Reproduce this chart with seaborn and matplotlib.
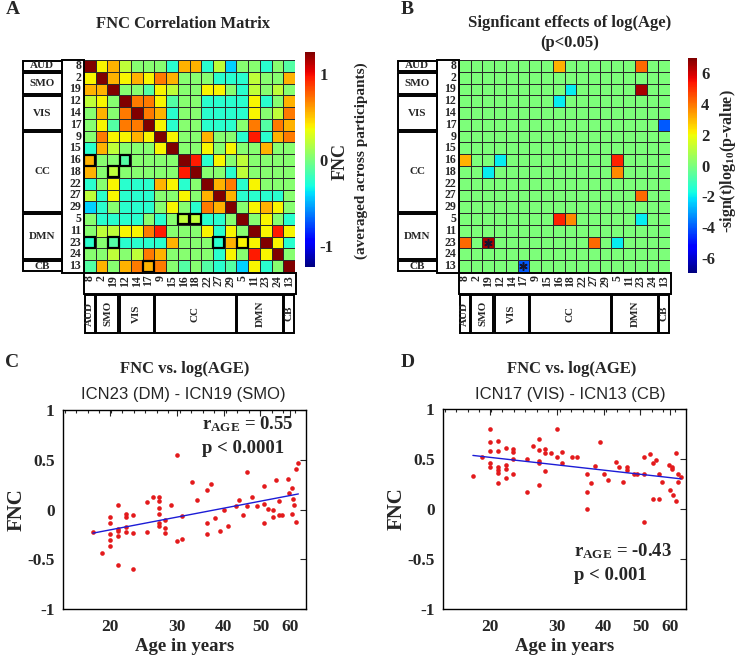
import numpy as np
import pandas as pd
import matplotlib
matplotlib.use('Agg')
import matplotlib.pyplot as plt
import seaborn as sns
from matplotlib.patches import Rectangle
from matplotlib.ticker import FixedLocator, NullFormatter

# ICN order and network groups
icn = ['8', '2', '19', '12', '14', '17', '9', '15', '16', '18', '22', '27', '29', '5', '11', '23', '24', '13']
groups = ['AUD', 'SMO', 'VIS', 'CC', 'DMN', 'CB']
group_sizes = [1, 2, 3, 7, 4, 1]

DR, R, O, LO, Y, YG, G, GC, C, LB = 1.25, 0.95, 0.7, 0.55, 0.38, 0.2, 0.03, -0.12, -0.25, -0.42

fnc_rows = [
    [DR, Y, LO, YG, G, G, G, C, LO, LO, C, YG, LB, G, G, C, G, GC],
    [Y, DR, LO, Y, LO, Y, O, LO, G, G, G, C, C, C, YG, G, G, LO],
    [LO, LO, DR, G, G, GC, Y, YG, G, G, Y, Y, G, C, YG, G, YG, G],
    [YG, Y, G, DR, O, O, Y, GC, G, G, C, C, C, C, Y, C, G, LO],
    [G, LO, G, O, DR, O, LO, C, G, G, C, C, C, C, Y, G, YG, O],
    [G, Y, GC, O, O, DR, Y, C, G, G, C, C, C, G, O, GC, O, LO],
    [G, O, Y, Y, LO, Y, DR, Y, G, G, LO, G, G, C, R, C, LO, O],
    [C, LO, YG, G, G, G, Y, DR, G, G, Y, G, Y, G, G, LO, G, G],
    [LO, G, G, GC, G, G, G, G, DR, R, C, Y, G, YG, G, G, G, G],
    [LO, G, YG, G, G, G, G, G, R, DR, G, G, C, YG, G, G, G, G],
    [C, G, Y, C, C, C, LO, Y, C, G, DR, LO, O, C, Y, G, G, G],
    [YG, C, Y, C, C, C, G, G, Y, G, LO, DR, LO, C, C, C, C, G],
    [LB, C, G, C, C, C, G, Y, G, C, O, LO, DR, G, Y, LO, Y, G],
    [G, C, C, C, C, G, C, G, YG, YG, C, C, G, DR, G, Y, G, C],
    [G, YG, YG, Y, Y, O, R, G, G, G, Y, C, Y, G, DR, Y, R, Y],
    [C, G, GC, C, C, C, C, LO, G, G, G, C, LO, Y, Y, DR, Y, C],
    [G, G, YG, G, YG, O, LO, G, G, G, G, C, Y, G, R, Y, DR, G],
    [GC, LO, G, LO, O, LO, O, G, GC, G, GC, C, GC, LB, Y, C, G, DR],
]

# significant log(Age) effects: lower-triangle cell (row, col) and -sign(t)log10(p)
sig_rows = [8, 8, 9, 13, 13, 15, 15, 15, 15, 17]
sig_cols = [0, 3, 2, 8, 9, 0, 2, 11, 13, 5]
sig_vals = [3.1, -2.0, -2.0, 5.2, 3.7, 4.2, 6.5, 4.2, -2.0, -4.0]
star_cells = [(15, 2), (17, 5)]

# panel C: ICN23 (DM) - ICN19 (SMO)
ageC = [18, 19, 20, 20, 20, 20, 20, 21, 21, 21, 21, 21, 22, 22, 22, 22, 23, 23, 23,
        25, 25, 26, 27, 27, 27, 27, 27, 27, 28, 28, 28, 29, 30, 30, 31, 31, 33, 34,
        36, 36, 36, 37, 38, 39, 40, 41, 43, 44, 45, 46, 46, 47.5, 49, 51, 51, 51,
        52.5, 54, 54, 55, 56, 56, 57, 59, 59.5, 60.5, 60.5, 61, 61.5, 62, 62, 63]
fncC = [-0.23, -0.44, -0.08, -0.14, -0.25, -0.31, -0.37, 0.05, -0.2, -0.22, -0.27, -0.56,
        -0.05, -0.08, -0.18, -0.23, -0.06, -0.24, -0.6, 0.08, -0.23, 0.13, 0.13, 0.09,
        0.02, -0.05, -0.14, -0.17, -0.11, -0.19, -0.24, 0.05, 0.55, -0.32, -0.07, -0.3,
        0.28, 0.1, 0.2, -0.14, -0.25, 0.26, -0.09, -0.22, 0.0, -0.17, 0.04, 0.1, -0.06,
        0.38, 0.04, 0.13, 0.04, 0.24, 0.06, -0.14, 0.01, -0.01, -0.08, 0.3, 0.09, -0.06,
        -0.06, 0.31, 0.17, 0.22, -0.05, 0.11, 0.05, -0.13, 0.41, 0.47]

# panel D: ICN17 (VIS) - ICN13 (CB)
ageD = [18, 19, 20, 20, 20, 20, 20, 21, 21, 21, 21, 21, 21, 22, 22, 22, 22, 23, 23, 23, 23,
        25, 25, 26, 27, 27, 27, 27, 27, 28, 28, 28, 29, 30, 30, 31, 31, 33, 34,
        36, 36, 36, 37, 38, 39, 40, 41, 43, 44, 45, 46, 46, 48, 49,
        51, 51, 51, 53, 54, 54, 55, 56, 56, 57, 59.5, 60, 60.5, 60.5, 61, 62, 62, 63, 63, 64]
fncD = [0.33, 0.52, 0.8, 0.67, 0.58, 0.46, 0.42, 0.68, 0.58, 0.42, 0.39, 0.36, 0.26,
        0.61, 0.44, 0.4, 0.31, 0.6, 0.57, 0.5, 0.35, 0.5, 0.17, 0.63, 0.7, 0.59, 0.48,
        0.46, 0.24, 0.6, 0.56, 0.38, 0.56, 0.8, 0.52, 0.57, 0.46, 0.52, 0.52,
        0.35, 0.17, 0.0, 0.26, 0.43, 0.67, 0.35, 0.29, 0.47, 0.42, 0.27, 0.42, 0.39, 0.35, 0.35,
        0.52, 0.35, -0.13, 0.55, 0.46, 0.1, 0.49, 0.35, 0.1, 0.27, 0.44, 0.19, 0.42, 0.4,
        0.14, 0.56, 0.08, 0.27, 0.35, 0.32]

sns.set_style('white')
plt.rcParams['font.family'] = ['Liberation Serif', 'DejaVu Serif']
plt.rcParams['font.weight'] = 'bold'
plt.rcParams['axes.labelweight'] = 'bold'
plt.rcParams['mathtext.fontset'] = 'custom'
plt.rcParams['mathtext.rm'] = 'Liberation Serif:bold'
plt.rcParams['mathtext.bf'] = 'Liberation Serif:bold'
plt.rcParams['mathtext.it'] = 'Liberation Serif:italic:bold'

W, H = 743, 658
fig = plt.figure(figsize=(W / 100, H / 100), dpi=100)


def rect(x0, y0, x1, y1):
    return [x0 / W, 1 - y1 / H, (x1 - x0) / W, (y1 - y0) / H]


def ftext(x, y, s, **kw):
    fig.text(x / W, 1 - y / H, s, **kw)


axA = fig.add_axes(rect(84, 60, 295, 272))
caxA = fig.add_axes(rect(305, 52, 315, 267))
axB = fig.add_axes(rect(459, 60, 670, 272))
caxB = fig.add_axes(rect(688, 58, 697, 273))
axC = fig.add_axes(rect(63, 410, 306, 609))
axD = fig.add_axes(rect(443, 409, 686, 609))

# matrices
fnc_df = pd.DataFrame(fnc_rows, index=icn, columns=icn)
sig = np.zeros((18, 18))
for r, c, v in zip(sig_rows, sig_cols, sig_vals):
    sig[r, c] = v
    sig[c, r] = v
sig_df = pd.DataFrame(sig, index=icn, columns=icn)

sns.heatmap(fnc_df, ax=axA, cmap='jet', vmin=-1.25, vmax=1.25, linewidths=0.4,
            linecolor='#2a2a2a', cbar_ax=caxA, xticklabels=icn, yticklabels=icn)
sns.heatmap(sig_df, ax=axB, cmap='jet', vmin=-7, vmax=7, linewidths=0.4,
            linecolor='#2a2a2a', cbar_ax=caxB, xticklabels=icn, yticklabels=icn)


def frame_matrix(ax):
    kw = dict(fill=False, lw=1.4, ec='black', clip_on=False)
    ax.set_yticklabels(icn, rotation=0, fontsize=8.5, fontweight='bold')
    ax.set_xticklabels(icn, rotation=90, fontsize=8.5, fontweight='bold')
    ax.tick_params(length=0, pad=2)
    ax.add_patch(Rectangle((-1.85, 0), 1.85, 18.1, **kw))
    ax.add_patch(Rectangle((0, 18.05), 18.1, 1.8, **kw))
    start = 0
    for g, n in zip(groups, group_sizes):
        ax.add_patch(Rectangle((-5.2, start + 0.08), 3.3, n - 0.16, **kw))
        ax.text(-3.55, start + n / 2, g, ha='center', va='center', fontsize=8)
        ax.add_patch(Rectangle((start + 0.06, 19.95), n - 0.12, 3.2, **kw))
        ax.text(start + n / 2, 21.55, g, ha='center', va='center', rotation=90, fontsize=8)
        start += n


frame_matrix(axA)
frame_matrix(axB)

for r, c in zip(sig_rows, sig_cols):
    axA.add_patch(Rectangle((c + 0.04, r + 0.04), 0.92, 0.92, fill=False, lw=1.6, ec='black'))
# asterisks for the strongest effects
for r, c in star_cells:
    axB.plot(c + 0.5, r + 0.5, marker=(6, 2, 0), ms=6, mew=1.1, color='#151530')

caxA.set_yticks([-1, 0, 1])
caxA.set_yticklabels(['-1', '0', '1'])
caxA.tick_params(length=0, labelsize=12, pad=3)
caxB.set_yticks([-6, -4, -2, 0, 2, 4, 6])
caxB.set_yticklabels(['-6', '-4', '-2', '0', '2', '4', '6'])
caxB.tick_params(length=0, labelsize=12, pad=3)

ftext(13, 10, 'A', ha='center', va='center', fontsize=14)
ftext(407, 9, 'B', ha='center', va='center', fontsize=14)
ftext(183, 24, 'FNC Correlation Matrix', ha='center', va='center', fontsize=12)
ftext(570, 23, 'Signficant effects of log(Age)', ha='center', va='center', fontsize=12)
ftext(570, 43, '(p<0.05)', ha='center', va='center', fontsize=12)
ftext(340, 162, 'FNC', ha='center', va='center', rotation=90, fontsize=13)
ftext(361, 161, '(averaged across participants)', ha='center', va='center', rotation=90, fontsize=11)
ftext(728, 161, r'-sign(t)log$_{10}$(p-value)', ha='center', va='center', rotation=90, fontsize=11.5)

# scatter panels
minor_ages = np.exp(np.arange(2.72, 4.19, 0.07))


def scatter_panel(ax, age, fnc, letter, lx, title_x, sub, r_txt, p_txt, txt_xy):
    sns.regplot(x=age, y=fnc, ax=ax, logx=True, ci=None, truncate=True,
                scatter_kws=dict(s=11, color='#e31a1c', linewidths=0, alpha=1),
                line_kws=dict(color='#1c1cd6', lw=1))
    ax.set_xscale('log')
    ax.set_xlim(15, 66)
    ax.set_ylim(-1, 1)
    ax.xaxis.set_major_locator(FixedLocator([20, 30, 40, 50, 60]))
    ax.xaxis.set_minor_locator(FixedLocator(minor_ages))
    ax.xaxis.set_minor_formatter(NullFormatter())
    ax.set_xticklabels(['20', '30', '40', '50', '60'])
    ax.set_yticks([-1, -0.5, 0, 0.5, 1])
    ax.set_yticklabels(['-1', '-0.5', '0', '0.5', '1'])
    ax.tick_params(which='both', direction='in', top=True, right=True, labelsize=12.5, width=0.8)
    ax.tick_params(which='major', length=4)
    ax.tick_params(which='minor', length=2)
    ax.tick_params(axis='x', pad=7)
    ax.tick_params(axis='y', pad=6)
    for s in ax.spines.values():
        s.set_visible(True)
        s.set_color('black')
        s.set_linewidth(1)
    ax.set_xlabel('Age in years', fontsize=13.5)
    ax.set_ylabel('FNC', fontsize=15)
    ax.xaxis.set_label_coords(0.5, -0.145)
    ax.yaxis.set_label_coords(-0.15, 0.5)
    ftext(lx, 362, letter, ha='center', va='center', fontsize=14)
    ftext(title_x, 369, 'FNC vs. log(AGE)', ha='center', va='center', fontsize=12)
    ftext(title_x - 2, 395, sub, ha='center', va='center', fontsize=12,
          family='Liberation Sans', fontweight='normal')
    tx, ty = txt_xy
    ax.text(tx, ty, r'$\mathbf{r}_{\mathbf{AGE}}$' + r_txt, transform=ax.transAxes,
            ha='left', va='center', fontsize=13.5)
    ax.text(tx, ty - 0.125, p_txt, transform=ax.transAxes,
            ha='left', va='center', fontsize=13.5)


scatter_panel(axC, ageC, fncC, 'C', 12, 185, 'ICN23 (DM) - ICN19 (SMO)',
              ' = 0.55', 'p < 0.0001', (0.57, 0.93))
scatter_panel(axD, ageD, fncD, 'D', 408, 572, 'ICN17 (VIS) - ICN13 (CB)',
              ' = -0.43', 'p < 0.001', (0.54, 0.29))

fig.savefig('out.png', dpi=100)
